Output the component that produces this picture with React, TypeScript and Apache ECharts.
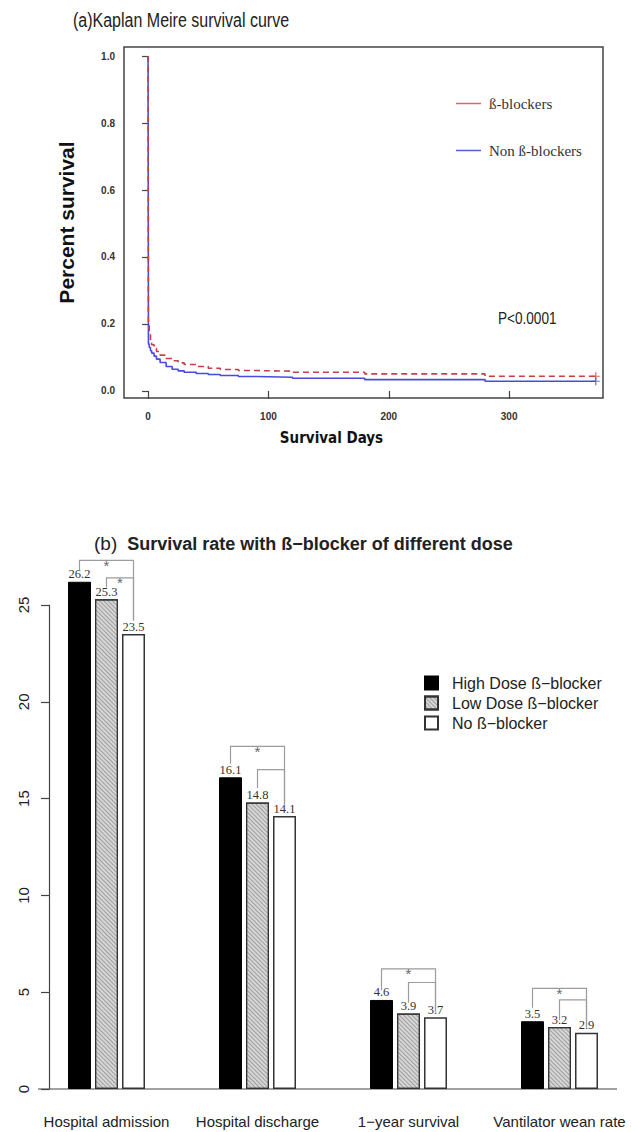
import React, { useEffect, useRef } from "react";
import * as echarts from "echarts";

// ---------- (a) Kaplan-Meier data ----------
const kmTicksX = [0, 100, 200, 300];
const kmTicksY = [0, 0.2, 0.4, 0.6, 0.8, 1.0];
const betaDays = [0, 0.3, 1, 2, 3, 5, 7, 10, 15, 20, 25, 30, 40, 50, 60, 75, 90, 120, 180, 280, 372];
const betaSurv = [1.0, 0.2, 0.168, 0.15, 0.138, 0.127, 0.118, 0.107, 0.097, 0.09, 0.084, 0.079, 0.073, 0.068, 0.064, 0.061, 0.059, 0.056, 0.051, 0.044, 0.044];
const nonBetaDays = [0, 0.3, 1, 2, 3, 5, 7, 10, 15, 20, 25, 30, 40, 50, 60, 75, 90, 120, 180, 280, 372];
const nonBetaSurv = [1.0, 0.14, 0.13, 0.12, 0.113, 0.104, 0.095, 0.085, 0.073, 0.065, 0.06, 0.056, 0.052, 0.049, 0.046, 0.043, 0.041, 0.038, 0.034, 0.029, 0.029];

// ---------- (b) Bar data ----------
const categories = ["Hospital admission", "Hospital discharge", "1\u2212year survival", "Vantilator wean rate"];
const highDose = [26.2, 16.1, 4.6, 3.5];
const lowDose = [25.3, 14.8, 3.9, 3.2];
const noBeta = [23.5, 14.1, 3.7, 2.9];
const barTicksY = [0, 5, 10, 15, 20, 25];

// significance brackets (value units)
const bracketGroup = [0, 0, 1, 1, 2, 2, 3, 3];
const bracketFrom = [0, 1, 0, 1, 0, 1, 0, 1];
const bracketLevel = [27.3, 26.4, 17.7, 16.5, 6.2, 5.5, 5.2, 4.6];
const bracketFromEnd = [26.8, 25.9, 16.8, 15.55, 5.1, 4.45, 4.2, 3.55];
const bracketToEnd = [24.2, 24.2, 14.7, 14.7, 4.0, 4.0, 3.2, 3.2];
const bracketStar = [1, 1, 1, 0, 1, 0, 1, 0];

const BAR_W = 23;
const BAR_GAP = 4;

const NARROW = "'Liberation Sans Narrow', 'DejaVu Sans Condensed', 'Liberation Sans', Arial, sans-serif";
const SANS = "'Liberation Sans', Arial, sans-serif";
const SERIF = "'Liberation Serif', 'Times New Roman', serif";

const makeBarLabel = () => ({
  show: true,
  position: "top",
  distance: 1,
  fontFamily: SERIF,
  fontSize: 12.5,
  color: "#333333",
});

export default function App() {
  const ref = useRef<HTMLDivElement>(null);

  useEffect(() => {
    if (!ref.current) return;
    const chart = echarts.init(ref.current, undefined, { renderer: "svg" });

    const betaData = betaDays.map((d, i) => [d, betaSurv[i]]);
    const nonBetaData = nonBetaDays.map((d, i) => [d, nonBetaSurv[i]]);
    const lastB = betaData.length - 1;
    const lastN = nonBetaData.length - 1;

    const bracketData = bracketGroup.map((g, i) => [
      g,
      bracketLevel[i],
      bracketFrom[i],
      bracketFromEnd[i],
      bracketToEnd[i],
      bracketStar[i],
    ]);

    const plusSymbol = "path://M0,5L10,5M5,0L5,10";

    const option: any = {
      animation: false,
      backgroundColor: "#fff",
      title: [
        {
          text: "{a|(b)}  {b|Survival rate with \u00DF\u2212blocker of different dose}",
          left: 89,
          top: 529,
          textStyle: {
            rich: {
              a: { fontFamily: SANS, fontSize: 19, fontWeight: "normal", color: "#222" },
              b: { fontFamily: SANS, fontSize: 18, fontWeight: "bold", color: "#222" },
            },
          },
        },
      ],
      legend: [
        {
          data: ["\u00DF-blockers", "Non \u00DF-blockers"],
          orient: "vertical",
          left: 451,
          top: 90,
          icon: "rect",
          itemWidth: 25,
          itemHeight: 1.5,
          itemGap: 30,
          textStyle: { fontFamily: SERIF, fontSize: 15, color: "#333", lineHeight: 17, padding: [0, 0, 0, 3] },
        },
        {
          data: ["High Dose \u00DF\u2212blocker", "Low Dose \u00DF\u2212blocker", "No \u00DF\u2212blocker"],
          orient: "vertical",
          left: 419,
          top: 670,
          icon: "rect",
          itemWidth: 13,
          itemHeight: 13,
          itemGap: 4,
          textStyle: { fontFamily: SANS, fontSize: 16, color: "#222", lineHeight: 13, padding: [0, 0, 0, 9] },
        },
      ],
      grid: [
        {
          left: 124,
          right: 32,
          top: 47,
          bottom: 734,
          show: true,
          borderColor: "#444",
          borderWidth: 1.5,
          backgroundColor: "transparent",
        },
        { left: 31, right: 0, top: 605, bottom: 43 },
      ],
      xAxis: [
        {
          type: "value",
          gridIndex: 0,
          min: -20,
          max: 378,
          axisLine: { show: false },
          axisTick: { show: true, customValues: kmTicksX, length: 8, lineStyle: { color: "#444", width: 1.2 } },
          axisLabel: {
            customValues: kmTicksX,
            fontFamily: SANS,
            fontSize: 10,
            fontWeight: "bold",
            color: "#333",
            margin: 13,
          },
          splitLine: { show: false },
          name: "Survival Days",
          nameLocation: "middle",
          nameGap: 32,
          nameTextStyle: {
            fontFamily: NARROW,
            fontSize: 15,
            fontWeight: "bold",
            color: "#111",
            padding: [0, 64, 0, 0],
          },
        },
        {
          type: "category",
          gridIndex: 1,
          data: categories,
          axisLine: { show: false },
          axisTick: { show: false },
          axisLabel: { interval: 0, fontFamily: SANS, fontSize: 15, color: "#222", margin: 25 },
        },
      ],
      yAxis: [
        {
          type: "value",
          gridIndex: 0,
          min: -0.021,
          max: 1.027,
          axisLine: { show: false },
          axisTick: { show: true, customValues: kmTicksY, length: 6, lineStyle: { color: "#444", width: 1.2 } },
          axisLabel: {
            customValues: kmTicksY,
            formatter: (v: number) => v.toFixed(1),
            fontFamily: SANS,
            fontSize: 10,
            fontWeight: "bold",
            color: "#333",
            margin: 9,
          },
          splitLine: { show: false },
          name: "Percent survival",
          nameLocation: "middle",
          nameGap: 47,
          nameTextStyle: { fontFamily: SANS, fontSize: 21, fontWeight: "bold", color: "#111" },
        },
        {
          type: "value",
          gridIndex: 1,
          min: 0,
          max: 25,
          interval: 5,
          offset: -18,
          axisLine: { show: true, lineStyle: { color: "#444", width: 1.2 } },
          axisTick: { show: true, length: 8, lineStyle: { color: "#444", width: 1.2 } },
          axisLabel: {
            customValues: barTicksY,
            rotate: 90,
            fontFamily: SANS,
            fontSize: 15,
            color: "#222",
            margin: 18,
          },
          splitLine: { show: false },
        },
      ],
      graphic: [
        {
          type: "text",
          x: 73,
          y: 20,
          scaleX: 0.8,
          style: {
            text: "(a)Kaplan Meire survival curve",
            fontFamily: SANS,
            fontSize: 20,
            fill: "#222",
            verticalAlign: "middle",
          },
        },
        {
          type: "text",
          x: 498,
          y: 319,
          scaleX: 0.85,
          style: { text: "P<0.0001", fontFamily: SANS, fontSize: 16, fill: "#222", verticalAlign: "middle" },
        },
        {
          type: "line",
          shape: { x1: 38, y1: 1089, x2: 617, y2: 1089 },
          style: { stroke: "#444", lineWidth: 1.2 },
        },
      ],
      series: [
        {
          name: "Non \u00DF-blockers",
          type: "line",
          xAxisIndex: 0,
          yAxisIndex: 0,
          step: "end",
          showSymbol: false,
          data: nonBetaData,
          color: "#4f5fd9",
          lineStyle: { color: "#4a4ae0", width: 1.6 },
          z: 3,
        },
        {
          name: "\u00DF-blockers",
          type: "line",
          xAxisIndex: 0,
          yAxisIndex: 0,
          step: "end",
          showSymbol: false,
          data: betaData,
          color: "#e06070",
          lineStyle: { color: "#c4414c", width: 1.6, type: [6, 4] },
          z: 4,
        },
        {
          type: "scatter",
          xAxisIndex: 0,
          yAxisIndex: 0,
          data: [betaData[lastB]],
          symbol: plusSymbol,
          symbolSize: 8,
          itemStyle: { color: "none", borderColor: "#c4414c", borderWidth: 1.2 },
          z: 5,
        },
        {
          type: "scatter",
          xAxisIndex: 0,
          yAxisIndex: 0,
          data: [nonBetaData[lastN]],
          symbol: plusSymbol,
          symbolSize: 8,
          itemStyle: { color: "none", borderColor: "#4a4ae0", borderWidth: 1.2 },
          z: 5,
        },
        {
          name: "High Dose \u00DF\u2212blocker",
          type: "bar",
          xAxisIndex: 1,
          yAxisIndex: 1,
          clip: false,
          data: highDose,
          barWidth: BAR_W,
          barGap: (BAR_GAP / BAR_W) * 100 + "%",
          itemStyle: { color: "#000", borderColor: "#000", borderWidth: 1 },
          label: makeBarLabel(),
        },
        {
          name: "Low Dose \u00DF\u2212blocker",
          type: "bar",
          xAxisIndex: 1,
          yAxisIndex: 1,
          clip: false,
          data: lowDose,
          barWidth: BAR_W,
          barGap: (BAR_GAP / BAR_W) * 100 + "%",
          itemStyle: {
            color: "#d6d6d6",
            borderColor: "#333",
            borderWidth: 1.2,
            decal: {
              symbol: "rect",
              color: "rgba(90,90,90,0.45)",
              dashArrayX: [1, 0],
              dashArrayY: [1, 2],
              rotation: Math.PI / 4,
              symbolSize: 1,
            },
          },
          label: makeBarLabel(),
        },
        {
          name: "No \u00DF\u2212blocker",
          type: "bar",
          xAxisIndex: 1,
          yAxisIndex: 1,
          clip: false,
          data: noBeta,
          barWidth: BAR_W,
          barGap: (BAR_GAP / BAR_W) * 100 + "%",
          itemStyle: { color: "#fff", borderColor: "#333", borderWidth: 1.5 },
          label: makeBarLabel(),
        },
        {
          type: "custom",
          xAxisIndex: 1,
          yAxisIndex: 1,
          clip: false,
          silent: true,
          data: bracketData,
          encode: { x: 0, y: 1 },
          renderItem: (params: any, api: any) => {
            const g = api.value(0);
            const level = api.value(1);
            const from = api.value(2);
            const fromEnd = api.value(3);
            const toEnd = api.value(4);
            const star = api.value(5);
            const c = api.coord([g, level]);
            const step = BAR_W + BAR_GAP;
            const xFrom = c[0] + (from - 1) * step;
            const xTo = c[0] + step;
            const yL = c[1];
            const yFromEnd = api.coord([g, fromEnd])[1];
            const yToEnd = api.coord([g, toEnd])[1];
            const children: any[] = [
              {
                type: "polyline",
                shape: { points: [[xFrom, yFromEnd], [xFrom, yL], [xTo, yL], [xTo, yToEnd]] },
                style: { stroke: "#9c9c9c", lineWidth: 1.2, fill: "none" },
              },
            ];
            if (star) {
              children.push({
                type: "text",
                x: (xFrom + xTo) / 2,
                y: yL + 5,
                style: {
                  text: "*",
                  fontFamily: SANS,
                  fontSize: 15,
                  fill: "#666",
                  align: "center",
                  verticalAlign: "middle",
                },
              });
            }
            return { type: "group", children };
          },
          z: 6,
        },
      ],
    };

    chart.setOption(option);
    return () => chart.dispose();
  }, []);

  return (
    <div
      ref={ref}
      style={{ position: "absolute", left: 0, top: 0, width: 635, height: 1132, background: "#fff" }}
    />
  );
}
